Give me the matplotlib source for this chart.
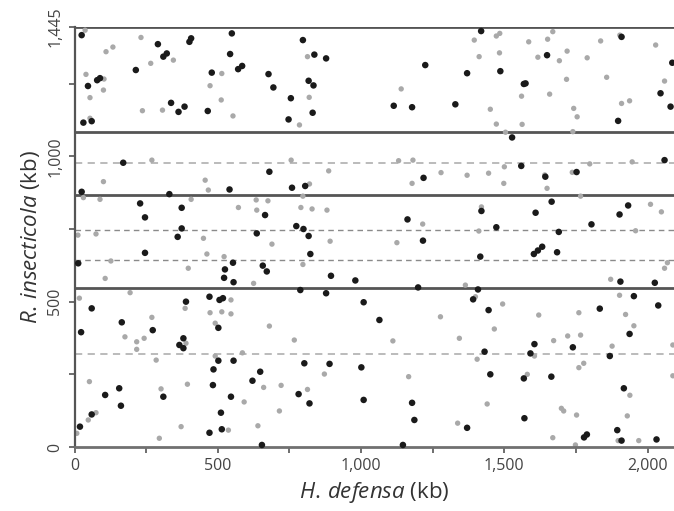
import matplotlib
matplotlib.use("Agg")
import matplotlib.pyplot as plt
from matplotlib.ticker import MultipleLocator, FixedLocator, FuncFormatter

# ---- data (kb) ----
black_x = [25, 47, 79, 89, 31, 60, 214, 291, 310, 322, 337, 363, 384, 401, 407, 465, 479, 25, 331, 229, 246, 374, 374, 170,
           549, 797, 543, 837, 878, 571, 585, 677, 694, 817, 834, 755, 747, 831, 680, 541, 759, 805, 665, 774, 799, 636,
           1419, 1224, 1370, 1486, 1568, 1114, 1178, 1329, 1527, 1559, 1218, 1420, 1162, 1472,
           1909, 1649, 2086, 1574, 2045, 2080, 1897, 2059, 1643, 1752, 1665, 1609, 1932, 1902, 1804, 1690,
           360, 246, 13, 522, 525, 471, 506, 518, 60, 389, 165, 502, 273, 23, 380, 366, 380, 502, 485, 483, 107, 156, 310, 162, 511, 60, 19, 471, 514,
           817, 823, 553, 657, 671, 555, 895, 980, 788, 878, 1009, 555, 648, 621, 802, 890, 1001, 782, 546, 820, 1009, 654,
           1216, 1416, 1199, 1408, 1391, 1445, 1064, 1431, 1451, 1568, 1178, 1186, 1370, 1146, 1570,
           1603, 1617, 1632, 1684, 1905, 2025, 1952, 2037, 1833, 1937, 1605, 1739, 1591, 1868, 1664, 1917, 1894, 1778, 1788, 1909, 2031]
black_y = [1417, 1242, 1262, 1269, 1116, 1121, 1297, 1386, 1343, 1354, 1184, 1153, 1171, 1394, 1406, 1156, 1288, 878, 870, 838, 790, 823, 752, 978,
           1423, 1400, 1352, 1350, 1337, 1300, 1311, 1283, 1237, 1260, 1244, 1200, 1127, 1150, 947, 886, 892, 898, 798, 760, 750, 735,
           1431, 1314, 1286, 1293, 1249, 1174, 1169, 1179, 1065, 967, 926, 812, 783, 756,
           1411, 1348, 1322, 1251, 1217, 1171, 1122, 987, 930, 946, 844, 806, 831, 800, 766, 740,
           723, 668, 632, 582, 611, 517, 506, 512, 477, 500, 429, 410, 402, 395, 374, 351, 340, 297, 267, 213, 179, 202, 173, 142, 118, 112, 70, 49, 61,
           726, 664, 634, 624, 604, 567, 589, 573, 540, 529, 498, 297, 259, 228, 288, 286, 274, 182, 173, 150, 162, 7,
           710, 655, 549, 542, 508, 471, 437, 328, 250, 236, 152, 93, 66, 7, 99,
           664, 676, 689, 670, 569, 565, 519, 487, 476, 389, 354, 343, 322, 313, 242, 202, 58, 33, 43, 22, 26]

gray_x = [37, 110, 134, 232, 266, 345, 40, 103, 101, 54, 54, 237, 307, 473, 514, 512, 270, 101, 456, 467, 31, 89, 407, 12, 75,
          813, 819, 553, 785, 756, 887, 820, 797, 634, 675, 572, 636, 790, 829, 881,
          1395, 1472, 1484, 1412, 1483, 1140, 1560, 1451, 1472, 1562, 1504, 1131, 1181, 1279, 1178, 1370, 1445, 1498, 1500, 1420, 1215, 1411,
          1669, 1585, 1651, 1836, 1903, 2028, 1617, 1719, 1692, 1789, 1717, 1857, 2059, 1658, 1742, 1754, 1909, 1937, 1739, 1798, 1946, 1641, 1737, 1649, 1766, 2010, 2048, 1958,
          450, 127, 462, 397, 107, 194, 17, 386, 473, 514, 270, 491, 176, 217, 243, 217, 389, 285, 491, 52, 302, 394, 75, 48, 8, 372, 296,
          689, 892, 522, 797, 625, 546, 546, 680, 767, 586, 872, 660, 721, 813, 592, 715, 640, 537,
          1125, 1364, 1399, 1494, 1277, 1465, 1343, 1111, 1405, 1166, 1440, 1337,
          2069, 2059, 1871, 1902, 1620, 1760, 1923, 1952, 1672, 1721, 1766, 1876, 1605, 1760, 1777, 1580, 1938, 1699, 1707, 1752, 1929, 1669, 1897, 1969, 1748, 2088, 2088]
gray_y = [1434, 1360, 1376, 1409, 1320, 1331, 1282, 1266, 1228, 1202, 1131, 1157, 1159, 1243, 1285, 1194, 987, 913, 918, 884, 858, 852, 852, 729, 733,
          1343, 1203, 1139, 1108, 987, 950, 905, 863, 850, 847, 824, 815, 824, 819, 815,
          1400, 1414, 1423, 1343, 1356, 1232, 1207, 1162, 1111, 1110, 1083, 985, 987, 944, 907, 935, 942, 907, 964, 826, 767, 743,
          1429, 1394, 1403, 1397, 1417, 1383, 1341, 1362, 1329, 1339, 1265, 1272, 1259, 1214, 1165, 1136, 1182, 1191, 1085, 974, 981, 936, 945, 890, 863, 835, 809, 744,
          718, 640, 664, 615, 580, 531, 512, 477, 462, 465, 446, 426, 379, 362, 374, 336, 357, 299, 313, 225, 200, 216, 118, 93, 47, 70, 30,
          698, 708, 655, 628, 563, 506, 458, 416, 368, 324, 251, 205, 212, 198, 155, 124, 73, 58,
          703, 557, 517, 492, 448, 406, 374, 365, 302, 242, 148, 82,
          634, 615, 577, 522, 454, 462, 456, 417, 366, 382, 385, 347, 313, 273, 288, 250, 178, 133, 124, 110, 107, 32, 22, 22, 7, 351, 245]

solid_lines = [1445, 1084, 867, 546]
dark_dashed = [746, 643]
light_dashed = [977, 320]

x_max = 2092
y_max = 1445
x_labels = [0, 500, 1000, 1500, 2000]
y_labels = [0, 500, 1000, 1445]

# ---- figure ----
plt.rcParams['font.family'] = ['Open Sans', 'DejaVu Sans']
plt.rcParams['mathtext.fontset'] = 'custom'
plt.rcParams['mathtext.it'] = 'Open Sans:italic'
plt.rcParams['mathtext.rm'] = 'Open Sans'

fig = plt.figure(figsize=(6.74, 5.11), dpi=100)
ax = fig.add_axes([74.5 / 674, (511 - 447) / 511, (674 - 74.5) / 674, 420 / 511])
ax.set_xlim(0, x_max)
ax.set_ylim(0, y_max)

for y in solid_lines:
    ax.axhline(y, color='#555555', lw=2.0, zorder=1)
for y in dark_dashed:
    ax.axhline(y, color='#8a8a8a', lw=1.0, ls=(0, (4, 3)), zorder=1)
for y in light_dashed:
    ax.axhline(y, color='#b5b5b5', lw=1.3, ls=(0, (4, 3)), zorder=1)

ax.scatter(gray_x, gray_y, s=15, c='#a9a9a9', edgecolors='none', zorder=2, clip_on=False)
ax.scatter(black_x, black_y, s=22, c='#1a1a1a', edgecolors='none', zorder=3, clip_on=False)

for s in ['top', 'right']:
    ax.spines[s].set_visible(False)
ax.spines['left'].set_color('#555555')
ax.spines['left'].set_linewidth(1.6)
ax.spines['bottom'].set_color('#707070')
ax.spines['bottom'].set_linewidth(2.0)

ax.xaxis.set_major_locator(FixedLocator(x_labels))
ax.xaxis.set_minor_locator(MultipleLocator(250))
ax.yaxis.set_major_locator(FixedLocator(y_labels))
ax.yaxis.set_minor_locator(FixedLocator([250, 750, 1250]))
fmt = FuncFormatter(lambda v, p: f"{int(v):,}")
ax.xaxis.set_major_formatter(fmt)
ax.yaxis.set_major_formatter(fmt)
ax.tick_params(axis='both', which='both', direction='out', length=4, width=1.2,
               color='#555555', labelcolor='#444444', labelsize=11.5)
ax.tick_params(axis='x', pad=4)
ax.tick_params(axis='y', pad=4)
for lab in ax.get_yticklabels():
    lab.set_rotation(90)
    lab.set_va('center')

ax.set_xlabel(r"$\mathit{H.\,defensa}$ (kb)", fontsize=16, color='#333333', labelpad=4)
ax.set_ylabel(r"$\mathit{R.\,insecticola}$ (kb)", fontsize=16, color='#333333', labelpad=4)

fig.savefig("out.png", dpi=100)
